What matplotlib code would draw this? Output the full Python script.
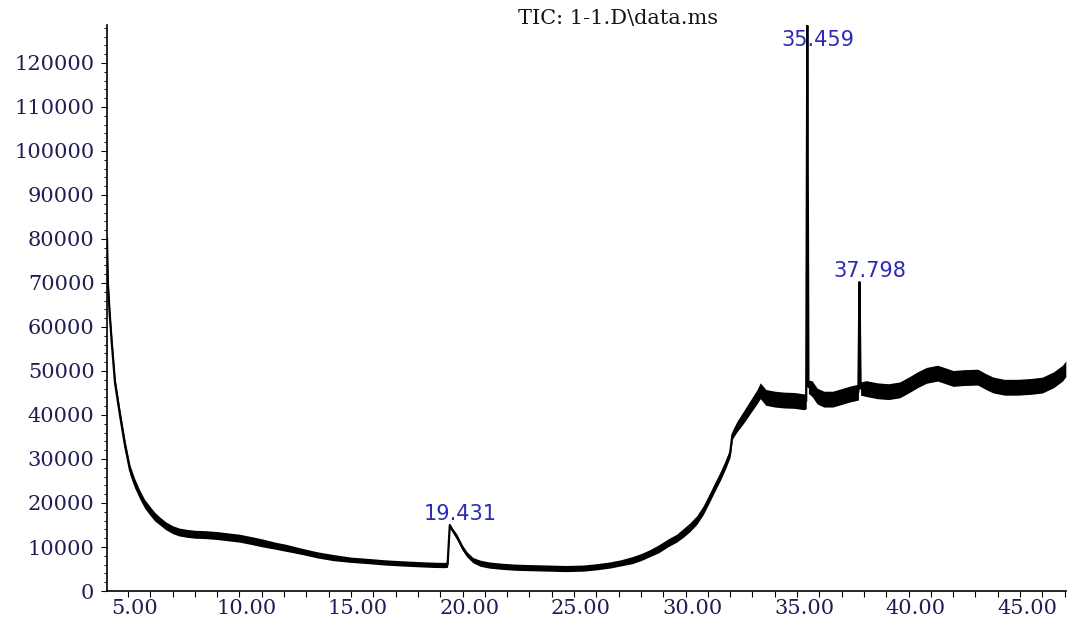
import matplotlib
matplotlib.use('Agg')
import matplotlib.pyplot as plt
import matplotlib.transforms as mtransforms
import numpy as np

# retention time (min) and TIC counts
rt = [4.06, 4.10, 4.18, 4.28, 4.42, 4.64, 4.87, 5.09, 5.30, 5.54,
      5.75, 5.99, 6.20, 6.43, 6.70, 7.02, 7.30, 7.65, 8.0, 8.5,
      9.0, 9.5, 10.0, 10.5, 11.05, 11.6, 12.1, 12.8, 13.5, 14.2,
      15.0, 15.8, 16.5, 17.2, 18.0, 18.7, 19.2, 19.33, 19.43, 19.55,
      19.75, 20.0, 20.2, 20.47, 20.8, 21.2, 21.8, 22.4, 23.1, 23.9,
      24.6, 25.4, 26.0, 26.6, 27.1, 27.6, 28.0, 28.4, 28.8, 29.2,
      29.6, 29.9, 30.2, 30.5, 30.8, 31.1, 31.3, 31.55, 31.8, 32.0,
      32.1, 32.3, 32.6, 32.9, 33.2, 33.35, 33.6, 34.0, 34.4, 34.9,
      35.3, 35.41, 35.459, 35.51, 35.67, 35.9, 36.2, 36.6, 37.0, 37.4,
      37.75, 37.798, 37.85, 38.1, 38.6, 39.1, 39.6, 40.0, 40.4, 40.8,
      41.3, 41.6, 42.0, 42.5, 43.1, 43.5, 43.8, 44.3, 44.9, 45.5,
      46.0, 46.5, 46.9, 47.05]
tic = [80000, 70000, 63000, 56000, 47300, 40000, 33000, 27500, 24500, 21800,
       19800, 18200, 16900, 15900, 14800, 13900, 13400, 13100, 12900, 12800,
       12600, 12300, 12000, 11500, 10900, 10300, 9800, 9000, 8200, 7600,
       7100, 6800, 6500, 6300, 6100, 5950, 5900, 6000, 15000, 13800,
       12300, 9800, 8300, 7000, 6300, 5900, 5600, 5400, 5300, 5200,
       5100, 5200, 5500, 5900, 6400, 7000, 7700, 8600, 9600, 10900,
       12000, 13200, 14500, 16100, 18400, 21400, 23500, 26000, 28800, 31400,
       35500, 37300, 39500, 41800, 44100, 45500, 44000, 43600, 43400, 43300,
       43000, 43200, 128500, 46400, 46000, 44300, 43600, 43600, 44200, 44800,
       45200, 70200, 46000, 46000, 45500, 45300, 45700, 46800, 48000, 49000,
       49500, 49000, 48300, 48500, 48600, 47500, 46800, 46300, 46300, 46500,
       46800, 48000, 49500, 50500]
# half width of the noisy band around the trace
band = [1200, 1200, 1200, 1200, 1200, 1200, 1200, 1100, 1100, 1000,
        1000, 1000, 1000, 900, 900, 900, 900, 900, 900, 900,
        900, 900, 900, 900, 900, 800, 800, 700, 700, 700,
        600, 600, 600, 600, 600, 600, 600, 600, 200, 500,
        600, 600, 600, 600, 700, 700, 700, 700, 700, 700,
        700, 700, 700, 700, 700, 800, 800, 800, 900, 900,
        900, 1000, 1000, 1000, 1000, 1000, 1000, 1000, 1000, 1000,
        1000, 1200, 1400, 1500, 1600, 1800, 1800, 1800, 1800, 1800,
        1800, 1800, 200, 1500, 1800, 1800, 1800, 1800, 1800, 1800,
        1800, 200, 1500, 1800, 1800, 1800, 1800, 1800, 1800, 1800,
        1800, 1800, 1800, 1800, 1800, 1800, 1800, 1800, 1800, 1800,
        1800, 1800, 1800, 1800]

peak_rt = [19.431, 35.459, 37.798]
peak_h = [15000, 128500, 70200]
peak_txt = ['19.431', '35.459', '37.798']

x = np.array(rt)
y = np.array(tic)
b = np.array(band)

fig = plt.figure(figsize=(10.70, 6.27), dpi=100)
ax = fig.add_axes([0.1, 0.0574, 0.8963, 0.9026])

ax.fill_between(x, y - b, y + b, color='black', lw=0, zorder=2)
ax.plot(x, y, color='black', lw=1.6, zorder=3)

ax.set_xlim(4.06, 47.06)
ax.set_ylim(0, 128600)

ax.set_xticks(np.arange(5, 46, 5))
ax.set_xticklabels(['%.2f' % v for v in np.arange(5, 46, 5)])
ax.set_xticks(np.arange(5, 48, 1), minor=True)
ax.set_yticks(np.arange(0, 120001, 10000))
ax.set_yticks(np.arange(0, 128001, 2000), minor=True)

ax.spines['right'].set_visible(False)
ax.spines['top'].set_visible(False)
ax.spines['left'].set_linewidth(1.2)
ax.spines['bottom'].set_linewidth(1.2)

lab_col = '#1e1e55'
ax.tick_params(axis='both', which='major', direction='out', length=4, width=0.8,
               labelsize=15, labelcolor=lab_col)
ax.tick_params(axis='x', which='minor', direction='out', length=4, width=0.8)
ax.tick_params(axis='y', which='minor', direction='out', length=2, width=0.7)
ax.tick_params(axis='x', which='major', pad=2)
ax.tick_params(axis='y', which='major', pad=5)
for lab in ax.get_xticklabels() + ax.get_yticklabels():
    lab.set_family('DejaVu Serif')
# x labels sit a bit to the right of the ticks
shift = mtransforms.ScaledTranslation(7 / 100, 0, fig.dpi_scale_trans)
for lab in ax.get_xticklabels():
    lab.set_transform(lab.get_transform() + shift)

# peak labels
for t, h, s in zip(peak_rt, peak_h, peak_txt):
    ax.annotate(s, xy=(t, min(h, 122600)), xytext=(-19, 1), textcoords='offset points',
                ha='left', va='bottom', fontsize=15, color='#2a2ab8',
                family='DejaVu Sans', zorder=4)

fig.text(518 / 1070, 1 - 18 / 627, 'TIC: 1-1.D\\data.ms', ha='left', va='center',
         fontsize=15, family='DejaVu Serif', color='#151515')

fig.savefig('out.png', dpi=100)
